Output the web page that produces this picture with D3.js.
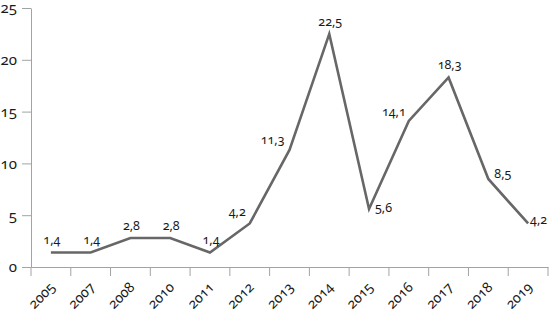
<!DOCTYPE html>
<html>
<head>
<meta charset="utf-8">
<script src="https://cdn.jsdelivr.net/npm/d3@7"></script>
<style>
  body { margin: 0; background: #fff; }
  svg text { font-family: "Noto Sans", sans-serif; font-variant-numeric: oldstyle-nums; fill: #1a1a1a; }
</style>
</head>
<body>
<div id="chart"></div>
<script>

// Data
const years = ["2005", "2007", "2008", "2010", "2011", "2012", "2013", "2014", "2015", "2016", "2017", "2018", "2019"]
const values = [1.4, 1.4, 2.8, 2.8, 1.4, 4.2, 11.3, 22.5, 5.6, 14.1, 18.3, 8.5, 4.2]
const yTicks = [0, 5, 10, 15, 20, 25]

const width = 550
const height = 313

const svg = d3.select("#chart")
    .append("svg")
    .attr("width", width)
    .attr("height", height)

const x = d3.scaleBand()
    .domain(years)
    .range([31, 548])

const y = d3.scaleLinear()
    .domain([0, 25])
    .range([267, 8])

const axisColor = "#a3a3a3"

// X axis, ticks between the categories
const xAxis = svg.append("g")
    .attr("transform", `translate(0, ${y(0)})`)
    .call(d3.axisBottom(x).tickSizeInner(9).tickSizeOuter(0))

xAxis.select(".domain").attr("stroke", axisColor)
xAxis.selectAll(".tick line")
    .attr("stroke", axisColor)
    .attr("x1", x.bandwidth() / 2)
    .attr("x2", x.bandwidth() / 2)
xAxis.append("line")
    .attr("x1", x.range()[0]).attr("x2", x.range()[0])
    .attr("y1", 0).attr("y2", 9)
    .attr("stroke", axisColor)
xAxis.selectAll(".tick text")
    .attr("font-size", 14)
    .attr("text-anchor", "end")
    .attr("dy", null)
    .attr("y", 0)
    .attr("transform", "translate(5, 21) rotate(-45)")

// Y axis
const yAxis = svg.append("g")
    .attr("transform", `translate(${x.range()[0]}, 0)`)
    .call(d3.axisLeft(y).tickValues(yTicks).tickSizeInner(9).tickSizeOuter(0).tickPadding(5))

yAxis.select(".domain").attr("stroke", axisColor)
yAxis.selectAll(".tick line").attr("stroke", axisColor)
yAxis.selectAll(".tick text").attr("font-size", 15)

// Line
const pts = years.map((yr, i) => ({year: yr, value: values[i]}))
const cx = d => x(d.year) + x.bandwidth() / 2

const line = d3.line()
    .x(cx)
    .y(d => y(d.value))

svg.append("path")
    .datum(pts)
    .attr("fill", "none")
    .attr("stroke", "#676767")
    .attr("stroke-width", 2.6)
    .attr("stroke-linejoin", "miter")
    .attr("d", line)

// Value labels
const place = {
    "2012": [-4, -7, "end"],
    "2013": [-5, -6, "end"],
    "2015": [6, 3, "start"],
    "2016": [-3, -5, "end"],
    "2018": [6, -1, "start"],
    "2019": [2, 1, "start"]
}
const fmt = v => d3.format(".1f")(v).replace(".", ",")

svg.append("g")
    .selectAll("text")
    .data(pts)
    .join("text")
    .attr("font-size", 12.5)
    .attr("x", d => cx(d) + (place[d.year] ? place[d.year][0] : 1))
    .attr("y", d => y(d.value) + (place[d.year] ? place[d.year][1] : -8))
    .attr("text-anchor", d => place[d.year] ? place[d.year][2] : "middle")
    .text(d => fmt(d.value))

</script>
</body>
</html>
